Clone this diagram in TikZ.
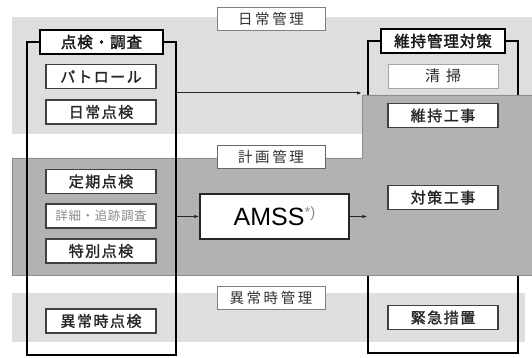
\documentclass[tikz,border=0pt]{standalone}
\usepackage{fontspec}
\setmainfont{Liberation Sans}
\newfontfamily\jpb{Noto Sans CJK JP}[FakeBold=1.6, LetterSpace=10]
\newfontfamily\jph{Noto Sans CJK JP}[FakeBold=2.2, LetterSpace=6]
\newfontfamily\jpl{Noto Sans CJK JP}[LetterSpace=18]
\newfontfamily\jps{Noto Sans CJK JP}[LetterSpace=5]
\usetikzlibrary{arrows.meta}
\definecolor{dotgray}{gray}{0.87}
\definecolor{plangray}{gray}{0.70}
\tikzset{
 frame/.style={draw=black, line width=1.3pt},
 hdr/.style={draw=black, line width=1.6pt, fill=white, minimum width=124pt, minimum height=24pt, font=\jph\fontsize{15.5}{15.5}\selectfont, inner sep=0pt, text=black!90},
 item/.style={draw=black!75, line width=1.1pt, fill=white, minimum width=110pt, minimum height=24pt, font=\jpb\fontsize{15}{15}\selectfont, inner sep=0pt, text=black!85},
 lbl/.style={draw=black!50, line width=0.6pt, fill=white, minimum width=108pt, minimum height=23pt, font=\jpl\fontsize{14.5}{14.5}\selectfont, inner sep=0pt, text=black!80},
 arr/.style={-{Latex[length=5pt,width=3.5pt]}, line width=1pt, black!85}
}
\begin{document}
\begin{tikzpicture}[x=1pt,y=-1pt]
\useasboundingbox (0,0) rectangle (532,358);
% regions
\fill[dotgray] (12,17) rectangle (532,134);
\fill[dotgray] (12,293) rectangle (525,342);
% right frame (partly hidden by planning band)
\node[frame, minimum width=150pt, minimum height=312pt, inner sep=0pt] (rf) at (443,197) {};
% planning band
\filldraw[fill=plangray, draw=black!45, line width=0.6pt] (12,158) -- (362,158) -- (362,95) -- (532,95) -- (532,275) -- (12,275) -- cycle;
% left frame
\node[frame, minimum width=149pt, minimum height=313pt, inner sep=0pt] (lf) at (101.5,198.5) {};
% headers
\node[hdr, minimum width=123pt] (hl) at (101.5,42) {点検・調査};
\node[hdr] (hr) at (443,41) {維持管理対策};
% left items
\node[item] (pat) at (101,76.5) {パトロール};
\node[item] (nic) at (101,112) {日常点検};
\node[item] (tei) at (101,181.5) {定期点検};
\node[item, font=\jps\fontsize{12.5}{12.5}\selectfont, text=black!45] (sho) at (101,216) {詳細・追跡調査};
\node[item] (tok) at (101,251) {特別点検};
\node[item] (ijo) at (101,321) {異常時点検};
% right items
\node[item, draw=black!35, line width=0.7pt, font=\jpl\fontsize{15}{15}\selectfont] (sei) at (443,76) {清\hspace{6pt}掃};
\node[item] (iji) at (443,115.5) {維持工事};
\node[item] (tai) at (443,197.5) {対策工事};
\node[item] (kin) at (443,317.5) {緊急措置};
% labels
\node[lbl] (l1) at (271,18.5) {日常管理};
\node[lbl, draw=black!60] (l2) at (271,157) {計画管理};
\node[lbl] (l3) at (271,298) {異常時管理};
% AMSS
\node[draw=black!85, line width=1.4pt, fill=white, minimum width=149pt, minimum height=45pt, inner sep=0pt, font=\fontsize{25}{25}\selectfont] (amss) at (274.5,216.5) {AMSS\raisebox{8pt}{\textcolor{black!45}{\fontsize{15}{15}\selectfont *)}}};
% arrows
\coordinate (t) at (362,93);
\draw[arr] (lf.east |- t) -- (t);
\draw[arr] (lf.east |- amss.west) -- (amss.west);
\draw[arr] (amss.east) -- (rf.west |- amss.east);
\end{tikzpicture}
\end{document}
